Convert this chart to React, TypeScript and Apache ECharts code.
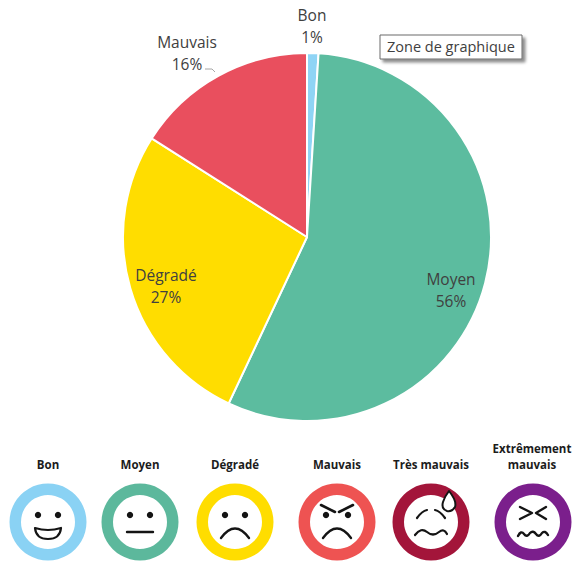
import React, { useEffect, useRef } from "react";
import * as echarts from "echarts";

// Share of days per air-quality class
const categories = ["Bon", "Moyen", "Dégradé", "Mauvais"];
const shares = [1, 56, 27, 16];
const sliceColors = ["#8FD4F5", "#5CBC9F", "#FFDD00", "#E94F5E"];

// Scale of air-quality faces under the pie
const faceLabels = ["Bon", "Moyen", "Dégradé", "Mauvais", "Très mauvais", "Extrêmement\nmauvais"];
const faceColors = ["#8AD2F4", "#5CB89C", "#FFDD00", "#EE5352", "#A3153A", "#7B1F8C"];
const faceCentersX = [48, 140, 235, 337, 431, 533];

const INK = "#141414";
const facePaths: Record<string, string> = {
  smile: "M-13,6 Q0,10 13,6 Q12,17 0,17 Q-12,17 -13,6 Z",
  flat: "M-13,10 L13,10",
  frown: "M-14,16 Q0,-3 14,16",
  brows: "M-16,-17 L-2,-10 M16,-17 L2,-10",
  worried: "M-14,-4 Q-9,-11 -4,-12 M4,-12 Q9,-11 14,-4",
  wavy: "M-16,13 Q-10,5 -4,10 Q2,15 8,10 Q13,6 16,12",
  squint: "M-13,-15 L-1,-9 L-13,-3 M13,-15 L3,-9 L13,-3",
  zigzag: "M-15,14 Q-12,8 -9,12 Q-6,16 -3,11 Q0,8 3,12 Q6,16 9,11 Q12,8 15,13",
  drop: "M0,-11 Q8,-1 6,5 Q3,10 -2,9 Q-8,7 -6,0 Q-4,-6 0,-11 Z",
};
Object.entries(facePaths).forEach(([name, d]) => {
  echarts.graphic.registerShape("face-" + name, echarts.graphic.extendPath(d, {}));
});

const line = (name: string, x: number, y: number, lineWidth = 2.2, fill = "none") => ({
  type: "face-" + name,
  x,
  y,
  style: { stroke: INK, lineWidth, fill, lineCap: "round", lineJoin: "round" },
});
const eyes = (dx: number, dy: number) =>
  [-dx, dx].map((x) => ({ type: "circle", shape: { cx: x, cy: dy, r: 3.2 }, style: { fill: INK } }));

const faceParts: any[][] = [
  [...eyes(10, -7), line("smile", 0, 0, 2.2, "#ffffff")],
  [...eyes(10, -7), line("flat", 0, 0, 2.4)],
  [...eyes(10, -7), line("frown", 0, 0, 2.4)],
  [...eyes(11, -7), line("brows", 0, 0, 2.6), line("frown", 0, 0, 2.4)],
  [line("worried", 0, 0, 2.2), line("wavy", 0, 0, 2.2), line("drop", 18, -20, 2, "#ffffff")],
  [line("squint", 0, 0, 2.4), line("zigzag", 0, 0, 2.4)],
];

const faceGraphics = faceLabels.map((label, i) => ({
  type: "group",
  x: faceCentersX[i],
  y: 522,
  children: [
    {
      type: "ring",
      shape: { cx: 0, cy: 0, r: 38.5, r0: 27 },
      style: { fill: faceColors[i] },
    },
    ...faceParts[i],
    {
      type: "text",
      x: i === 5 ? -1 : 0,
      y: -50,
      style: {
        text: label,
        fill: "#1c1c1c",
        font: "bold 11.5px 'Open Sans'",
        align: "center",
        verticalAlign: "bottom",
        lineHeight: 16,
      },
    },
  ],
}));

const labelSpots = [
  { x: 312, y: 26 },
  { x: 451, y: 290 },
  { x: 166, y: 286 },
  { x: 187, y: 53 },
];

export default function App() {
  const ref = useRef<HTMLDivElement>(null);

  useEffect(() => {
    document.body.style.margin = "0";
    const chart = echarts.init(ref.current!, undefined, { renderer: "svg" });
    chart.setOption({
      animation: false,
      backgroundColor: "#ffffff",
      series: [
        {
          type: "pie",
          center: [307, 237],
          radius: [0, 184],
          startAngle: 90,
          clockwise: true,
          silent: true,
          itemStyle: { borderColor: "#ffffff", borderWidth: 2 },
          label: {
            show: true,
            position: "inside",
            formatter: "{b}\n{d}%",
            fontFamily: "'Open Sans'",
            fontSize: 15.5,
            lineHeight: 22,
            color: "#404040",
            align: "center",
            verticalAlign: "middle",
          },
          labelLine: { show: false },
          labelLayout: (params: any) => ({
            x: labelSpots[params.dataIndex].x,
            y: labelSpots[params.dataIndex].y,
            align: "center",
            verticalAlign: "middle",
          }),
          data: categories.map((name, i) => ({
            name,
            value: shares[i],
            itemStyle: { color: sliceColors[i] },
          })),
        },
      ],
      graphic: [
        // Leader stub beside the "Mauvais" label
        {
          type: "polyline",
          shape: { points: [[205, 69], [212, 69], [215, 72]] },
          style: { stroke: "#a6a6a6", lineWidth: 1, fill: "none" },
        },
        // Hover caption of the chart area
        {
          type: "rect",
          shape: { x: 380, y: 35, width: 142, height: 24 },
          style: {
            fill: "#ffffff",
            stroke: "#6a6a6a",
            lineWidth: 1,
            shadowColor: "rgba(0,0,0,0.45)",
            shadowBlur: 3,
            shadowOffsetX: 3,
            shadowOffsetY: 3,
          },
        },
        {
          type: "text",
          x: 387,
          y: 46,
          style: {
            text: "Zone de graphique",
            fill: "#404040",
            font: "14.5px 'Open Sans'",
            verticalAlign: "middle",
          },
        },
        ...faceGraphics,
      ],
    });
    return () => chart.dispose();
  }, []);

  return <div ref={ref} style={{ width: 575, height: 565 }} />;
}
